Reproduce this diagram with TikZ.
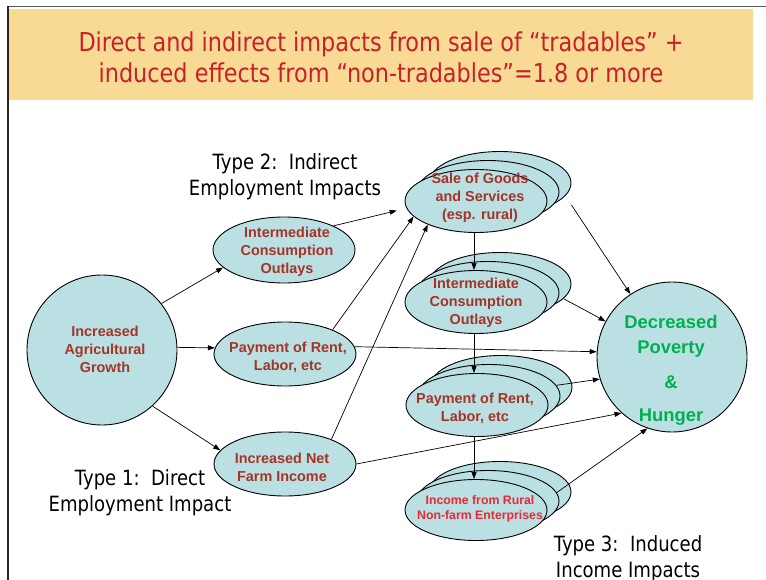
\documentclass[tikz,border=0pt]{standalone}
\usepackage{fontspec}
\setmainfont{Liberation Sans}
\newfontfamily\tahoma{DejaVu Sans}[FakeStretch=0.86]
\usetikzlibrary{arrows.meta,calc,shapes.geometric}
\definecolor{nodefill}{RGB}{187,224,228}
\definecolor{brownred}{RGB}{163,52,38}
\definecolor{incred}{RGB}{232,40,50}
\definecolor{titlered}{RGB}{200,32,42}
\definecolor{band}{RGB}{248,218,148}
\definecolor{decgreen}{RGB}{0,176,80}
\begin{document}
\begin{tikzpicture}[x=1pt,y=-1pt,
  bub/.style={ellipse, draw=black, line width=0.9pt, fill=nodefill, inner sep=0pt, minimum width=142pt, minimum height=63pt},
  ring/.style={circle, draw=black, line width=0.9pt, fill=nodefill, inner sep=0pt, minimum size=150pt},
  txt/.style={text=brownred, align=center, inner sep=0pt, font=\bfseries\fontsize{14.4}{18}\selectfont},
  smalltxt/.style={text=incred, align=center, inner sep=0pt, font=\bfseries\fontsize{12.3}{15.5}\selectfont},
  dectxt/.style={text=decgreen, align=center, inner sep=0pt, font=\bfseries\fontsize{18.4}{25}\selectfont},
  typetxt/.style={text=black, align=center, inner sep=0pt, font=\tahoma\fontsize{21}{26}\selectfont},
  arr/.style={draw=black, line width=0.7pt, -{Triangle[length=7pt,width=5pt]}}
]
\useasboundingbox (0,0) rectangle (766,580);
% frame and title band
\fill[band] (9,9) rectangle (753,100);
\draw[gray!70!black, line width=1.5pt] (7,6.5) -- (766,6.5);
\draw[black!85, line width=2pt] (7.5,6) -- (7.5,580);
\node[text=titlered, align=center, inner sep=0pt, font=\tahoma\fontsize{26}{31}\selectfont] (title) at (381,57)
  {Direct and indirect impacts from sale of “tradables” +\\induced effects from “non-tradables”=1.8 or more};

% left column
\node[ring] (ag) at (102,350) {};
\node[bub, minimum height=66pt] (icoL) at (284,250) {};
\node[bub, minimum height=64pt] (payL) at (285,354) {};
\node[bub, minimum height=64pt] (farm) at (285,464) {};

% stacks
\node[bub] (saleC) at (500,183) {};
\node[bub] (saleB) at (488,192) {};
\node[bub] (saleA) at (476,201) {};
\node[bub] (icoC) at (500,284) {};
\node[bub] (icoB) at (488,293) {};
\node[bub] (icoA) at (476,302) {};
\node[bub] (payC) at (501,387) {};
\node[bub] (payB) at (489,396) {};
\node[bub] (payA) at (477,405) {};
\node[bub, minimum height=61pt] (incC) at (500,492) {};
\node[bub, minimum height=61pt] (incB) at (488,501) {};
\node[bub, minimum height=61pt] (incA) at (476,510) {};

% outcome
\node[ring] (dec) at (672,357) {};

% connectors
\draw[arr] (ag.38) -- (icoL.196);
\draw[arr] (ag.2) -- (payL.175);
\draw[arr] (ag.-48) -- (farm.168);
\draw[arr, shorten >=10pt] (icoL.26) -- (saleA.186);
\draw[arr] (payL.27) -- (saleA.194);
\draw[arr] (farm.28) -- (saleA.206);
\draw[arr] ($(saleA.south)+(-2,0)$) -- ($(icoA.north)+(-2,0)$);
\draw[arr] ($(icoA.south)+(-2,0)$) -- ($(payA.north)+(-3,0)$);
\draw[arr] ($(payA.south)+(-3,0)$) -- ($(incA.north)+(-2,0)$);
\draw[arr] ($(saleC.east)+(0,22)$) -- (dec);
\draw[arr] (icoC.-13) -- (dec);
\draw[arr] (payL.6) -- (dec.176);
\draw[arr] (payB.9) -- (dec.197);
\draw[arr] (farm.0) -- (dec.228);
\draw[arr] (incB.7) -- (dec.251);

% texts
\node[txt] (agT) at (105,349) {Increased\\Agricultural\\Growth};
\node[txt] (icoLT) at (287,252) {Intermediate\\Consumption\\Outlays};
\node[txt] (payLT) at (288,357) {Payment of Rent,\\Labor, etc};
\node[txt] (farmT) at (282,467) {Increased Net\\Farm Income};
\node[txt] (saleT) at (480,198) {Sale of Goods\\and Services\\(esp. rural)};
\node[txt] (icoT) at (476,303) {Intermediate\\Consumption\\Outlays};
\node[txt] (payT) at (475,408) {Payment of Rent,\\Labor, etc};
\node[smalltxt] (incT) at (480,509) {Income from Rural\\Non-farm Enterprises};
\node[dectxt] (decT) at (671,370) {Decreased\\Poverty\\[10pt]\&\\[8pt]Hunger};

\node[typetxt] (type2) at (285,177) {Type 2:\ \ Indirect\\Employment Impacts};
\node[typetxt] (type1) at (140,493) {Type 1:\ \ Direct\\Employment Impact};
\node[typetxt] (type3) at (628,559) {Type 3:\ \ Induced\\Income Impacts};
\end{tikzpicture}
\end{document}
